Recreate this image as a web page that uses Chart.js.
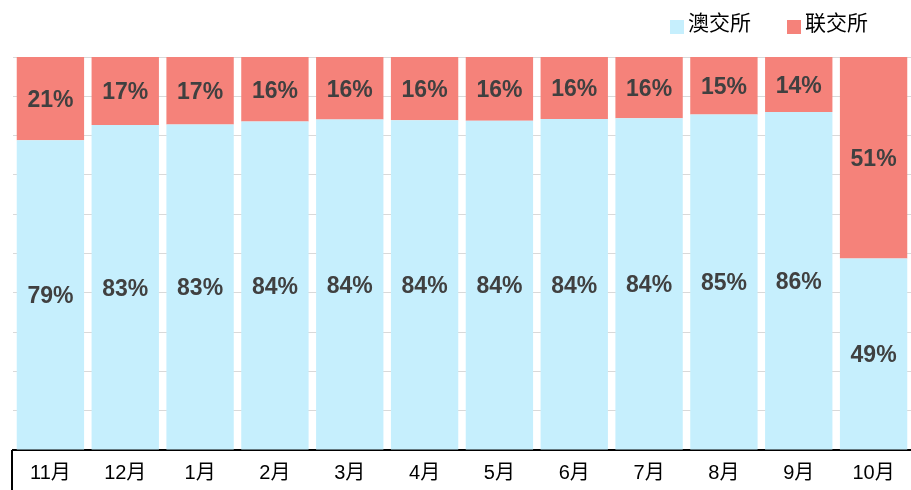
<!DOCTYPE html>
<html>
<head>
<meta charset="utf-8">
<script src="https://cdn.jsdelivr.net/npm/chart.js@4"></script>
<style>
    html, body { margin: 0; padding: 0; background: #fff; }
    #wrap { position: relative; width: 911px; height: 490px; }
    #legend {
        position: absolute; top: 11px; right: 43px;
        display: flex; gap: 36px;
        font: 21px 'Liberation Sans', Arial, 'Noto Sans CJK SC', sans-serif;
        line-height: 24px; color: #000;
    }
    #legend .item { display: flex; align-items: center; }
    #legend .box { width: 14px; height: 14px; margin: 8px 4px 0 0; }
</style>
</head>
<body>
<div id="wrap">
    <canvas id="shareChart"></canvas>
    <div id="legend"></div>
</div>
<script>
const months = ["11月", "12月", "1月", "2月", "3月", "4月", "5月", "6月", "7月", "8月", "9月", "10月"];
const asxShare = [78.8, 82.7, 82.8, 83.6, 84.1, 83.9, 83.8, 84.2, 84.4, 85.4, 86.0, 48.7];
const hkexShare = [21.2, 17.3, 17.2, 16.4, 15.9, 16.1, 16.2, 15.8, 15.6, 14.6, 14.0, 51.3];
const yTicks = [0, 10, 20, 30, 40, 50, 60, 70, 80, 90, 100];

const FONT = "'Liberation Sans', Arial, 'Noto Sans CJK SC', sans-serif";

// percent labels in the middle of each segment
const barLabels = {
    id: "barLabels",
    afterDatasetsDraw(chart) {
        const ctx = chart.ctx;
        ctx.save();
        ctx.font = "bold 23px " + FONT;
        ctx.fillStyle = "#404040";
        ctx.textAlign = "center";
        ctx.textBaseline = "middle";
        chart.data.datasets.forEach((ds, i) => {
            chart.getDatasetMeta(i).data.forEach((bar, j) => {
                const p = bar.getProps(["x", "y", "base"], true);
                ctx.fillText(Math.round(ds.data[j]) + "%", p.x, (p.y + p.base) / 2 + 2);
            });
        });
        ctx.restore();
    }
};

// black box line under the axis on the left
const axisBox = {
    id: "axisBox",
    afterDraw(chart) {
        const a = chart.chartArea;
        const ctx = chart.ctx;
        ctx.save();
        ctx.strokeStyle = "#000";
        ctx.lineWidth = 2;
        ctx.beginPath();
        ctx.moveTo(a.left - 1, a.bottom);
        ctx.lineTo(a.left - 1, chart.height);
        ctx.stroke();
        ctx.restore();
    }
};

const chart = new Chart(document.getElementById("shareChart"), {
    type: "bar",
    data: {
        labels: months,
        datasets: [{
            label: "澳交所",
            data: asxShare,
            backgroundColor: "#C6EFFD"
        }, {
            label: "联交所",
            data: hkexShare,
            backgroundColor: "#F5827A"
        }]
    },
    options: {
        responsive: true,
        maintainAspectRatio: false,
        animation: false,
        categoryPercentage: 0.9,
        barPercentage: 1,
        layout: {
            padding: { left: 13, right: 0, top: 57, bottom: 2 }
        },
        plugins: {
            legend: { display: false },
            tooltip: { enabled: false }
        },
        scales: {
            x: {
                stacked: true,
                grid: { display: false },
                border: { display: true, color: "#000", width: 2 },
                ticks: {
                    color: "#000",
                    padding: 3,
                    font: { size: 20, family: FONT }
                }
            },
            y: {
                stacked: true,
                min: 0,
                max: 100,
                afterBuildTicks(axis) {
                    axis.ticks = yTicks.map(v => ({ value: v }));
                },
                ticks: { display: false },
                grid: { color: "#D9D9D9", lineWidth: 1, drawTicks: false },
                border: { display: false }
            }
        }
    },
    plugins: [barLabels, axisBox]
});

// html legend from the chart's own legend items
const legendEl = document.getElementById("legend");
Chart.defaults.plugins.legend.labels.generateLabels(chart).forEach(item => {
    const row = document.createElement("div");
    row.className = "item";
    const box = document.createElement("span");
    box.className = "box";
    box.style.background = item.fillStyle;
    const txt = document.createElement("span");
    txt.textContent = item.text;
    row.appendChild(box);
    row.appendChild(txt);
    legendEl.appendChild(row);
});
</script>
</body>
</html>
